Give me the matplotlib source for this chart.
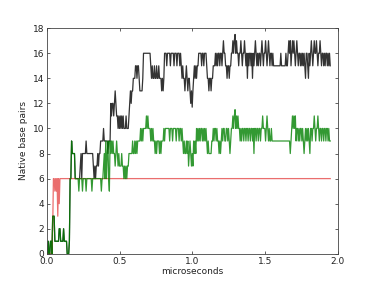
import numpy as np
import matplotlib
matplotlib.use("Agg")
import matplotlib.pyplot as plt

dt = 0.005

green = [
    0, 0, 1, 0, 0, 1, 1, 0, 3, 3, 3, 1, 1, 1, 1, 1, 1, 2, 2, 1,
    1, 1, 1, 2, 1, 1, 1, 1, 0, 0, 0, 1, 6, 6, 9, 8, 8, 8, 8, 6,
    6, 6, 6, 6, 5, 6, 6, 6, 6, 5, 6, 6, 6, 6, 5, 6, 6, 6, 6, 6,
    6, 6, 5, 6, 6, 6, 6, 6, 6, 6, 6, 6, 6, 6, 6, 5, 6, 6, 7, 8,
    6, 9, 6, 8, 9, 6, 5, 9, 8, 9, 8, 9, 8, 8, 7, 8, 9, 8, 7, 8,
    7, 7, 7, 8, 7, 7, 6, 7, 6, 7, 6, 7, 7, 8, 8, 8, 8, 8, 9, 8,
    8, 9, 8, 9, 8, 9, 9, 9, 9, 10, 9, 10, 9, 10, 10, 10, 10, 11, 10, 11,
    10, 10, 10, 9, 10, 9, 10, 9, 9, 8, 9, 8, 9, 9, 9, 8, 9, 8, 9, 9,
    9, 10, 9, 10, 10, 10, 10, 10, 10, 9, 10, 10, 10, 9, 10, 10, 10, 10, 9, 10,
    10, 10, 9, 10, 10, 9, 10, 9, 8, 9, 8, 8, 9, 8, 9, 7, 8, 9, 8, 7,
    8, 7, 9, 8, 9, 8, 10, 9, 10, 9, 10, 9, 10, 10, 9, 10, 9, 10, 9, 10,
    9, 8, 9, 8, 8, 8, 8, 9, 9, 10, 9, 10, 10, 9, 10, 9, 9, 8, 9, 8,
    9, 10, 9, 10, 10, 9, 9, 10, 10, 9, 10, 9, 8, 9, 10, 10, 11, 10, 11, 11.5,
    10, 11, 10, 11, 10, 10, 9, 10, 9, 10, 10, 9, 10, 10, 9, 10, 10, 9, 10, 10,
    9, 10, 10, 9, 10, 8, 10, 10, 9, 10, 10, 9, 10, 10, 9, 10, 10, 11, 10, 10,
    10, 9, 10, 11, 10, 9, 10, 9, 9, 10, 9, 9, 9, 9, 9, 9, 9, 9, 9, 9,
    9, 9, 9, 9, 9, 9, 9, 9, 9, 9, 9, 9, 9, 9, 9, 8, 9, 10, 11, 10,
    11, 10, 11, 9, 10, 10, 9, 10, 9, 10, 10, 9, 10, 9, 8, 9, 10, 9, 10, 9,
    10, 9, 8, 10, 10, 9, 10, 10, 11, 10, 9, 10, 10, 11, 10, 9, 10, 10, 9, 10,
    10, 9, 10, 10, 9, 10, 10, 9, 10, 9, 9]

black = green[:40] + [
    6, 6, 6, 6, 6, 6, 7, 8, 6, 8, 8, 8, 8, 8, 9, 8, 8, 8, 8, 8,
    8, 8, 8, 8, 7, 6, 7, 6, 7, 7, 8, 7, 8, 8, 9, 9, 9, 9, 10, 9,
    9, 9, 9, 9, 8, 9, 9, 9, 12, 11, 12, 12, 11, 12, 13, 12, 11, 11, 10, 11,
    10, 11, 10, 11, 10, 11, 10, 10, 10, 11, 10, 10, 10, 11, 12, 13, 12, 13, 13, 14,
    14, 14, 15, 15, 14, 15, 15, 14, 13, 13, 13, 13, 14, 16, 16, 16, 16, 16, 16, 16,
    16, 16, 16, 15, 14, 15, 14, 14, 15, 14, 14, 15, 14, 14, 15, 14, 14, 14, 13, 14,
    13, 14, 16, 16, 16, 15, 16, 16, 16, 16, 15, 16, 16, 16, 16, 15, 16, 16, 16, 15,
    16, 16, 16, 15, 16, 15, 14, 15, 14, 14, 13, 14, 15, 14, 13, 14, 14, 13, 12, 13,
    11.7, 13, 14, 15, 14, 15, 14, 15, 15, 16, 16, 16, 16, 15, 16, 16, 15, 16, 16, 16,
    15, 14, 14, 13, 14, 14, 13, 14, 14, 15, 15, 15, 16, 15, 16, 15, 16, 16, 15, 16,
    16, 15, 16, 17, 16, 16, 15, 15, 14, 15, 15, 14, 15, 15, 16, 16, 17, 16, 17, 17.5,
    16, 17, 16, 16, 15, 16, 16, 17, 16, 15, 16, 16, 17, 16, 15, 16, 14, 16, 15, 16,
    16, 15, 16, 14, 16, 15, 16, 17, 16, 15, 16, 15, 16, 16, 15, 16, 17, 16, 15, 16,
    16, 17, 16, 15, 16, 17, 16, 15, 16, 16, 15, 16, 15, 15, 15, 15, 15, 15, 15, 15,
    15, 15, 16, 15, 15, 15, 15, 15, 15, 16, 15, 15, 16, 17, 16, 17, 15, 16, 17, 16,
    17, 16, 15, 16, 17, 16, 15, 16, 16, 15, 16, 15, 16, 15, 16, 15, 14, 16, 16, 15,
    14, 16, 15, 16, 17, 16, 15, 16, 17, 16, 16, 17, 16, 15, 16, 16, 17, 16, 15, 16,
    16, 15, 16, 15, 16, 16, 15, 16, 15, 16, 15]

red = [0, 0, 0, 0, 0, 0, 0, 0, 2, 6, 6, 5, 6, 5, 6, 3, 6, 4, 6] + [6] * 372

t_black = np.arange(len(black)) * dt
t_green = np.arange(len(green)) * dt
t_red = np.arange(len(red)) * dt

fig = plt.figure(figsize=(3.75, 2.82), dpi=100)
ax = fig.add_axes([0.125, 0.1, 0.775, 0.8])

ax.plot(t_black, black, color='k', alpha=0.8, lw=0.9)
ax.plot(t_red, red, color='#e02020', alpha=0.65, lw=0.9)
ax.plot(t_green, green, color='g', alpha=0.8, lw=0.9)

ax.set_xlim(0, 2.0)
ax.set_ylim(0, 18)
ax.set_xticks([0.0, 0.5, 1.0, 1.5, 2.0])
ax.set_yticks(range(0, 19, 2))
ax.set_xticklabels(['0.0', '0.5', '1.0', '1.5', '2.0'])
ax.tick_params(direction='in', length=2.5, width=0.5, labelsize=6.5,
               top=True, right=True, pad=2, colors='#222222')
for s in ax.spines.values():
    s.set_linewidth(0.6)
    s.set_color('#444444')
ax.set_xlabel('microseconds', fontsize=6.5, labelpad=1, color='#222222')
ax.set_ylabel('Native base pairs', fontsize=6.5, labelpad=3, color='#222222')

fig.savefig('out.png', dpi=100)
